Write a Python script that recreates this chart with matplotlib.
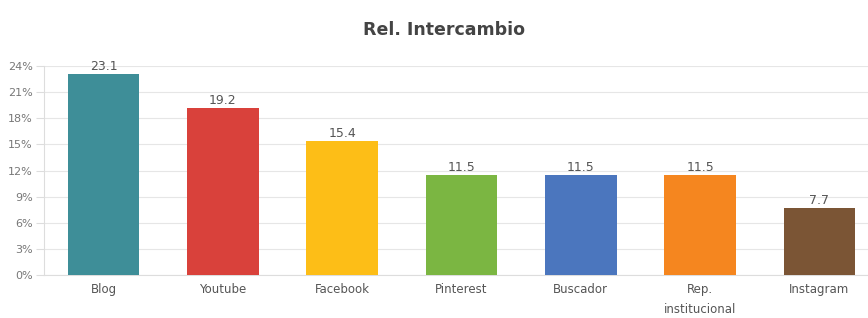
import matplotlib
matplotlib.use('Agg')
import matplotlib.pyplot as plt
import numpy as np

categories = ['Blog', 'Youtube', 'Facebook', 'Pinterest', 'Buscador', 'Rep.\ninstitucional', 'Instagram']
values = [23.1, 19.2, 15.4, 11.5, 11.5, 11.5, 7.7]
colors = ['#3E8E98', '#D9413B', '#FDBE17', '#7BB642', '#4B76BE', '#F5861F', '#7B5535']
yticks = [0, 3, 6, 9, 12, 15, 18, 21, 24]

fig = plt.figure(figsize=(8.68, 3.18), dpi=100)
ax = fig.add_axes([0.0507, 0.135, 0.962, 0.6575])

x = np.arange(len(categories))
ax.bar(x, values, width=0.6, color=colors, zorder=3)
for xi, v in zip(x, values):
    ax.text(xi, v + 0.1, f'{v}', ha='center', va='bottom', fontsize=9, color='#555555')

ax.set_xlim(-0.5, len(categories) - 0.5)
ax.set_ylim(0, 24)
ax.set_yticks(yticks)
ax.set_yticklabels([f'{t}%' for t in yticks], fontsize=8, color='#777777')
ax.set_xticks(x)
ax.set_xticklabels(categories, fontsize=8.5, color='#555555', linespacing=1.7)
ax.tick_params(axis='x', length=0, pad=6)
ax.tick_params(axis='y', length=6, color='#dddddd', pad=2)
ax.grid(axis='y', color='#e6e6e6', linewidth=0.8, zorder=0)
for s in ['top', 'right']:
    ax.spines[s].set_visible(False)
ax.spines['left'].set_color('#dddddd')
ax.spines['bottom'].set_color('#dddddd')

fig.text(0.512, 0.905, 'Rel. Intercambio', ha='center', va='center',
         fontsize=12.5, fontweight='bold', color='#444444')

plt.savefig('out.png', dpi=100)
